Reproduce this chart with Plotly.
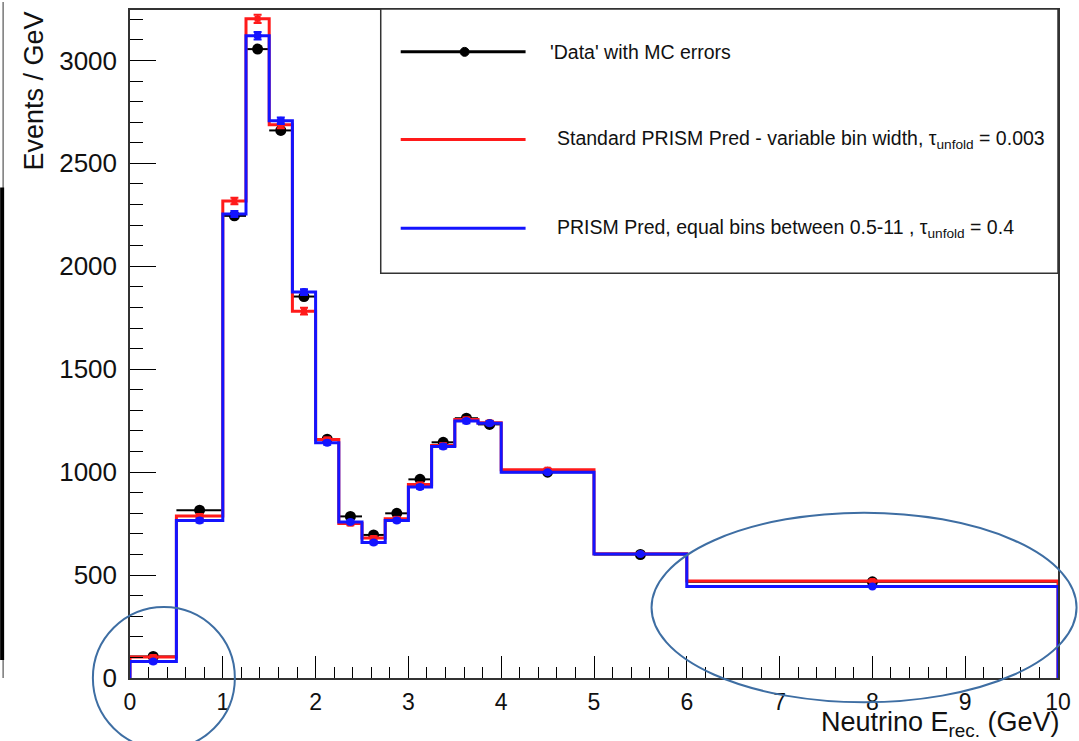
import plotly.graph_objects as go

# Bin edges (GeV) and per-bin contents (events / GeV)
bin_edges = [0.0, 0.5, 1.0, 1.25, 1.5, 1.75, 2.0, 2.25, 2.5, 2.75,
             3.0, 3.25, 3.5, 3.75, 4.0, 5.0, 6.0, 10.0]
data_vals = [105, 815, 2245, 3055, 2660, 1853, 1160, 785, 695, 800,
             965, 1145, 1262, 1232, 1000, 600, 467]
data_errs = [6, 10, 14, 16, 14, 12, 10, 8, 8, 8, 9, 10, 10, 10, 6, 5, 3]
std_vals = [102, 787, 2317, 3202, 2687, 1782, 1158, 750, 680, 773,
            940, 1130, 1256, 1240, 1012, 603, 471]
std_errs = [8, 10, 16, 20, 16, 16, 10, 8, 8, 8, 9, 10, 10, 10, 6, 5, 4]
eq_vals = [80, 765, 2254, 3120, 2707, 1875, 1143, 758, 658, 765,
           928, 1125, 1248, 1238, 1000, 602, 445]
eq_errs = [8, 10, 14, 18, 16, 14, 10, 8, 8, 8, 9, 10, 10, 10, 6, 5, 4]

x_ticks = list(range(0, 11))
y_ticks = [0, 500, 1000, 1500, 2000, 2500, 3000]

X_RANGE = [0, 10]
Y_RANGE = [0, 3245]

W, H = 1079, 741
M_L, M_R, M_T, M_B = 130, 20, 8, 63
PW, PH = W - M_L - M_R, H - M_T - M_B

centers = [(a + b) / 2 for a, b in zip(bin_edges[:-1], bin_edges[1:])]
halfw = [(b - a) / 2 for a, b in zip(bin_edges[:-1], bin_edges[1:])]


def step_xy(vals):
    xs = [bin_edges[0]] + bin_edges[:-1] + [bin_edges[-1]]
    ys = [0] + list(vals) + [0]
    return xs, ys


def px(x):
    return (x - M_L) / PW


def py(y):
    return (H - M_B - y) / PH


def dx(x):
    return (x - X_RANGE[0]) / (X_RANGE[1] - X_RANGE[0])


def dy(y):
    return (y - Y_RANGE[0]) / (Y_RANGE[1] - Y_RANGE[0])


RED = "#ff1a1a"
BLUE = "#1414ff"
BLACK = "#000000"
FONT = "Liberation Sans, Arial, Helvetica, sans-serif"

fig = go.Figure()

# 'Data' points with bin-width x errors
fig.add_trace(go.Scatter(
    x=centers, y=data_vals, mode="markers",
    marker=dict(color=BLACK, size=11, symbol="circle"),
    error_x=dict(type="data", array=halfw, color=BLACK, thickness=2, width=0),
    error_y=dict(type="data", array=data_errs, color=BLACK, thickness=2, width=0),
    showlegend=False, cliponaxis=False,
))

# Standard PRISM prediction
sx, sy = step_xy(std_vals)
fig.add_trace(go.Scatter(
    x=sx, y=sy, mode="lines", line=dict(color=RED, width=3, shape="hv"),
    showlegend=False, hoverinfo="skip",
))
fig.add_trace(go.Scatter(
    x=centers, y=std_vals, mode="markers",
    marker=dict(color=RED, size=6, symbol="square"),
    error_y=dict(type="data", array=std_errs, color=RED, thickness=2, width=4),
    showlegend=False,
))

# Equal-bin PRISM prediction
ex, ey = step_xy(eq_vals)
fig.add_trace(go.Scatter(
    x=ex, y=ey, mode="lines", line=dict(color=BLUE, width=3, shape="hv"),
    showlegend=False, hoverinfo="skip",
))
fig.add_trace(go.Scatter(
    x=centers, y=eq_vals, mode="markers",
    marker=dict(color=BLUE, size=8, symbol="circle"),
    error_y=dict(type="data", array=eq_errs, color=BLUE, thickness=2, width=4),
    showlegend=False,
))

shapes = []
annotations = []

# Highlight rings around the first and last bins (data units -> paper)
ring_col = "#3e6ea3"
shapes.append(dict(type="circle", xref="paper", yref="paper",
                   x0=dx(-0.40), x1=dx(1.13), y0=dy(-345), y1=dy(345),
                   line=dict(color=ring_col, width=2)))
shapes.append(dict(type="circle", xref="paper", yref="paper",
                   x0=dx(5.62), x1=dx(10.20), y0=dy(-118), y1=dy(803),
                   line=dict(color=ring_col, width=2)))

# Legend box
shapes.append(dict(type="rect", xref="paper", yref="paper",
                   x0=px(381), x1=px(1059), y0=py(272), y1=py(7),
                   line=dict(color="#333333", width=1.5),
                   fillcolor="white", layer="above"))
leg_rows = [
    (50, BLACK, "'Data' with MC errors", 548),
    (138, RED, "Standard PRISM Pred - variable bin width, τ<sub>unfold</sub> = 0.003", 555),
    (227, BLUE, "PRISM Pred, equal bins between 0.5-11 , τ<sub>unfold</sub> = 0.4", 555),
]
for yy, col, txt, tx in leg_rows:
    shapes.append(dict(type="line", xref="paper", yref="paper",
                       x0=px(401), x1=px(526), y0=py(yy), y1=py(yy),
                       line=dict(color=col, width=3), layer="above"))
    annotations.append(dict(xref="paper", yref="paper", x=px(tx), y=py(yy),
                            xanchor="left", yanchor="middle", showarrow=False,
                            text=txt, font=dict(family=FONT, size=19.5, color="#111111")))
shapes.append(dict(type="circle", xref="paper", yref="paper",
                   x0=px(460.5), x1=px(469.5), y0=py(54.5), y1=py(45.5),
                   fillcolor=BLACK, line=dict(color=BLACK, width=1), layer="above"))

# Page-edge rule on the far left
shapes.append(dict(type="line", xref="paper", yref="paper",
                   x0=px(3), x1=px(3), y0=py(0), y1=py(678),
                   line=dict(color="#777777", width=1.5)))
shapes.append(dict(type="line", xref="paper", yref="paper",
                   x0=px(2), x1=px(2), y0=py(186), y1=py(660),
                   line=dict(color="#000000", width=4)))

# Axis titles
annotations.append(dict(xref="paper", yref="paper", x=px(1063), y=py(724),
                        xanchor="right", yanchor="middle", showarrow=False,
                        text="Neutrino E<sub>rec.</sub> (GeV)",
                        font=dict(family=FONT, size=27, color="#111111")))
annotations.append(dict(xref="paper", yref="paper", x=px(33), y=py(8),
                        xanchor="center", yanchor="top", showarrow=False,
                        textangle=-90, text="Events / GeV",
                        font=dict(family=FONT, size=27, color="#111111")))

axis_common = dict(
    showgrid=False, zeroline=False, showline=True, linecolor="#333333",
    linewidth=1.5, mirror=True, ticks="inside", tickcolor=BLACK, tickwidth=1,
)

fig.update_layout(
    width=W, height=H, autosize=False,
    margin=dict(l=M_L, r=M_R, t=M_T, b=M_B, pad=0),
    paper_bgcolor="white", plot_bgcolor="white",
    shapes=shapes, annotations=annotations, showlegend=False,
    xaxis=dict(range=X_RANGE, tickvals=x_ticks, ticklen=22,
               ticklabelstandoff=3,
               tickfont=dict(family=FONT, size=23, color="#111111"),
               minor=dict(dtick=0.2, ticklen=11, ticks="inside", tickcolor=BLACK),
               **axis_common),
    yaxis=dict(range=Y_RANGE, tickvals=y_ticks, ticklen=26, tickformat="d",
               ticklabelstandoff=6,
               tickfont=dict(family=FONT, size=26, color="#111111"),
               minor=dict(dtick=100, ticklen=13, ticks="inside", tickcolor=BLACK),
               **axis_common),
)

fig.write_html("out.html")
